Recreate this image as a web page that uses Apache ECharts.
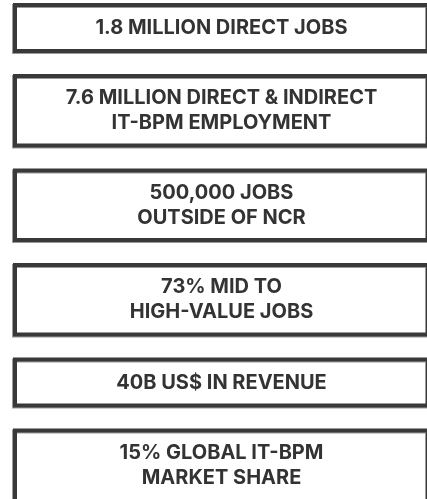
<!DOCTYPE html>
<html>
<head>
<meta charset="utf-8">
<script src="https://cdn.jsdelivr.net/npm/echarts@6/dist/echarts.min.js"></script>
<style>
  html, body { margin: 0; padding: 0; background: #fff; }
  #main { width: 427px; height: 499px; }
</style>
</head>
<body>
<div id="main"></div>
<script>
// key figures, one box each (\n = line break inside the box)
var stats = [
  '1.8 MILLION DIRECT JOBS',
  '7.6 MILLION DIRECT & INDIRECT\nIT-BPM EMPLOYMENT',
  '500,000 JOBS\nOUTSIDE OF NCR',
  '73% MID TO\nHIGH-VALUE JOBS',
  '40B US$ IN REVENUE',
  '15% GLOBAL IT-BPM\nMARKET SHARE'
];
var lineCounts = stats.map(function (s) { return s.split('\n').length; });

// layout (px units on the hidden axes)
var boxLeft = 15, boxRight = 428, firstTop = 5, gap = 25;
var oneLineH = 46, twoLineH = 69.5;

var tops = [];
var y = firstTop;
lineCounts.forEach(function (n) {
  tops.push(y);
  y += (n > 1 ? twoLineH : oneLineH) + gap;
});

var myChart = echarts.init(document.getElementById('main'));
var option = {
  animation: false,
  grid: { left: 0, right: 0, top: 0, bottom: 0 },
  xAxis: { type: 'value', min: 0, max: 427, show: false },
  yAxis: { type: 'value', min: 0, max: 499, inverse: true, show: false },
  series: [{
    type: 'custom',
    data: stats.map(function (s, i) { return [i]; }),
    renderItem: function (params, api) {
      var i = api.value(0);
      var h = lineCounts[i] > 1 ? twoLineH : oneLineH;
      var boxH = h;
      // last box runs off the bottom edge
      if (i === stats.length - 1) boxH += 4;
      var p0 = api.coord([boxLeft, tops[i]]);
      var p1 = api.coord([boxRight, tops[i] + boxH]);
      var mid = api.coord([0, tops[i] + h / 2]);
      var shape = { x: p0[0], y: p0[1], width: p1[0] - p0[0], height: p1[1] - p0[1] };
      return {
        type: 'group',
        children: [{
          type: 'rect',
          shape: { x: shape.x - 1, y: shape.y + 1, width: shape.width, height: shape.height },
          style: { fill: null, stroke: '#9a9a9a', lineWidth: 4 }
        }, {
          type: 'rect',
          shape: shape,
          style: { fill: null, stroke: '#393939', lineWidth: 4 }
        }, {
          type: 'text',
          x: (p0[0] + p1[0]) / 2,
          y: mid[1],
          style: {
            text: stats[i],
            fill: '#333',
            font: '700 20px Inter',
            align: 'center',
            verticalAlign: 'middle',
            lineHeight: 25
          }
        }]
      };
    }
  }]
};
myChart.setOption(option);
</script>
</body>
</html>
